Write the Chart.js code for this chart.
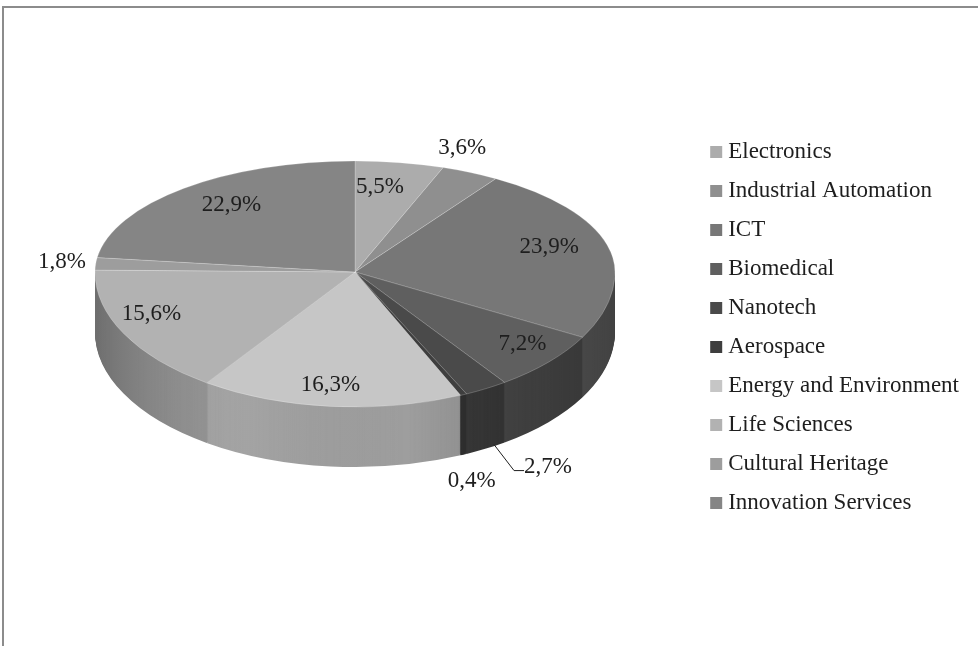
<!DOCTYPE html>
<html>
<head>
<meta charset="utf-8">
<script src="https://cdn.jsdelivr.net/npm/chart.js@4.4.1/dist/chart.umd.min.js"></script>
<style>
    html, body { margin: 0; padding: 0; background: #fff; }
    #wrap { position: relative; width: 978px; height: 646px; overflow: hidden; }
    #frame { position: absolute; left: 2px; top: 6px; width: 1000px; height: 700px;
             border-top: 2px solid #8c8c8c; border-left: 2px solid #8c8c8c; }
    canvas { position: absolute; left: 0; top: 0; }
</style>
</head>
<body>
<div id="wrap">
    <div id="frame"></div>
    <canvas id="pie" width="978" height="646"></canvas>
</div>
<script>
// data
const sectors = ['Electronics', 'Industrial Automation', 'ICT', 'Biomedical', 'Nanotech',
                 'Aerospace', 'Energy and Environment', 'Life Sciences', 'Cultural Heritage',
                 'Innovation Services'];
const shares = [5.5, 3.6, 23.9, 7.2, 2.7, 0.4, 16.3, 15.6, 1.8, 22.9];

// styles
const greys = ['#acacac', '#8f8f8f', '#777777', '#5f5f5f', '#4a4a4a',
               '#3e3e3e', '#c6c6c6', '#b2b2b2', '#9d9d9d', '#858585'];

// where the squashed "3d" pie sits on the page
const PIE = { cx: 355, cy: 272, rx: 260, ryBack: 111, ryFront: 135, depth: 60 };

// label placement: r = fraction of radius along the mid angle, dx/dy = nudge
const labelPos = [
    { r: 0.78, dx: -10, dy: 0 },
    { r: 1.2, dx: -31, dy: -5 },
    { r: 0.77, dx: 0, dy: -4 },
    { r: 0.85, dx: 3, dy: -5 },
    { r: 1, leader: true, dx: 8, dy: -4 },
    { r: 1, below: true, dx: 8, dy: 26 },
    { r: 0.84, dx: -4, dy: 0 },
    { r: 0.88, dx: 0, dy: -12 },
    { r: 1.13, dx: 0, dy: -1 },
    { r: 0.72, dx: 0, dy: -7 }
];

const shade = (hex, f) => {
    const n = parseInt(hex.slice(1), 16);
    const c = [(n >> 16) & 255, (n >> 8) & 255, n & 255].map(v => Math.round(v * f));
    return `rgb(${c[0]},${c[1]},${c[2]})`;
};
const fmt = v => v.toFixed(1).replace('.', ',') + '%';

function toEllipse(ctx, arc, ry, dy) {
    ctx.translate(PIE.cx, PIE.cy + dy);
    ctx.scale(PIE.rx / arc.outerRadius, ry / arc.outerRadius);
    ctx.translate(-arc.x, -arc.y);
}

// draw an arc element with a different fill, borders off
function drawArcAs(ctx, arc, fill) {
    const opts = arc.options;
    arc.options = new Proxy({}, {
        get: (t, p) => p === 'backgroundColor' ? fill : (p === 'borderWidth' ? 0 : opts[p])
    });
    arc.draw(ctx);
    arc.options = opts;
}

const pie3d = {
    id: 'pie3d',
    beforeDatasetsDraw(chart) {
        const ctx = chart.ctx;
        const arcs = chart.getDatasetMeta(0).data;
        const W = chart.width, H = chart.height;

        // side wall: stack of the front half, shifted down
        for (let d = PIE.depth; d >= 1; d--) {
            ctx.save();
            ctx.beginPath();
            ctx.rect(0, PIE.cy + d, W, H);
            ctx.clip();
            toEllipse(ctx, arcs[0], PIE.ryFront, d);
            arcs.forEach((a, i) => drawArcAs(ctx, a, shade(greys[i], 0.8)));
            ctx.restore();
        }
        // soft horizontal shading on the wall
        ctx.save();
        ctx.globalCompositeOperation = 'source-atop';
        const g = ctx.createLinearGradient(PIE.cx - PIE.rx, 0, PIE.cx + PIE.rx, 0);
        g.addColorStop(0, 'rgba(0,0,0,0.22)');
        g.addColorStop(0.3, 'rgba(255,255,255,0.06)');
        g.addColorStop(0.6, 'rgba(0,0,0,0)');
        g.addColorStop(1, 'rgba(0,0,0,0.3)');
        ctx.fillStyle = g;
        ctx.fillRect(PIE.cx - PIE.rx - 3, PIE.cy, PIE.rx * 2 + 6, PIE.ryFront + PIE.depth + 4);
        ctx.restore();

        // back half of the top face
        ctx.save();
        ctx.beginPath();
        ctx.rect(0, 0, W, PIE.cy + 1);
        ctx.clip();
        toEllipse(ctx, arcs[0], PIE.ryBack, 0);
        arcs.forEach(a => a.draw(ctx));
        ctx.restore();

        // front half: left to the library's own dataset draw
        ctx.save();
        ctx.beginPath();
        ctx.rect(0, PIE.cy, W, H);
        ctx.clip();
        toEllipse(ctx, arcs[0], PIE.ryFront, 0);
    },
    afterDatasetsDraw(chart) {
        const ctx = chart.ctx;
        ctx.restore();

        const arcs = chart.getDatasetMeta(0).data;
        ctx.save();
        ctx.font = '23px "Liberation Serif"';
        ctx.fillStyle = '#1e1e1e';
        ctx.strokeStyle = '#1e1e1e';
        ctx.lineWidth = 1;
        ctx.textBaseline = 'middle';
        arcs.forEach((a, i) => {
            const mid = (a.startAngle + a.endAngle) / 2;
            const p = labelPos[i];
            const s = Math.sin(mid);
            const ry = s < 0 ? PIE.ryBack : PIE.ryFront;
            let x = PIE.cx + PIE.rx * p.r * Math.cos(mid);
            let y = PIE.cy + ry * p.r * s;
            if (p.leader) {
                const x0 = x + p.dx, y0 = y + PIE.depth + p.dy;
                ctx.beginPath();
                ctx.moveTo(x0, y0);
                ctx.lineTo(x0 + 20, y0 + 26);
                ctx.lineTo(x0 + 30, y0 + 26);
                ctx.stroke();
                ctx.textAlign = 'left';
                ctx.fillText(fmt(shares[i]), x0 + 30, y0 + 22);
                return;
            }
            if (p.below) y += PIE.depth;
            ctx.textAlign = 'center';
            ctx.fillText(fmt(shares[i]), x + p.dx, y + p.dy);
        });
        ctx.restore();
    }
};

Chart.defaults.font.family = '"Liberation Serif", serif';

new Chart(document.getElementById('pie'), {
    type: 'pie',
    data: {
        labels: sectors,
        datasets: [{
            data: shares,
            backgroundColor: greys,
            borderColor: 'rgba(255,255,255,0.35)',
            borderWidth: 1
        }]
    },
    options: {
        responsive: false,
        animation: false,
        events: [],
        layout: { padding: { top: 9, right: 9 } },
        plugins: {
            tooltip: { enabled: false },
            legend: {
                position: 'right',
                align: 'center',
                labels: {
                    font: { family: '"Liberation Serif", serif', size: 23 },
                    color: '#1e1e1e',
                    usePointStyle: true,
                    pointStyle: 'rect',
                    boxWidth: 1,
                    boxHeight: 12,
                    padding: 16,
                    generateLabels: (chart) => sectors.map((s, i) => ({
                        text: s,
                        fillStyle: greys[i],
                        strokeStyle: 'rgba(0,0,0,0)',
                        lineWidth: 0,
                        pointStyle: 'rect',
                        fontColor: '#1e1e1e',
                        hidden: false,
                        index: i
                    }))
                }
            }
        }
    },
    plugins: [pie3d]
});
</script>
</body>
</html>
